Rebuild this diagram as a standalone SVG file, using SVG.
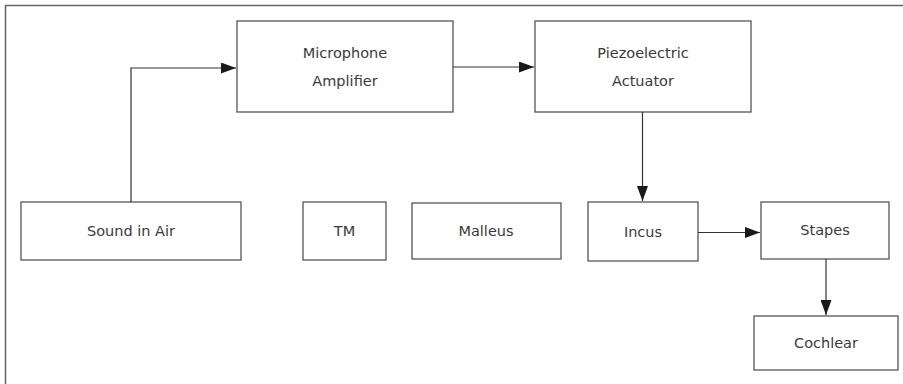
<svg xmlns="http://www.w3.org/2000/svg" width="903" height="384" viewBox="0 0 903 384">
<defs>
<marker id="ah" viewBox="0 0 15 11" refX="15" refY="5.5" markerWidth="15" markerHeight="11" markerUnits="userSpaceOnUse" orient="auto">
<path d="M0,0 L15,5.5 L0,11 Z" fill="#1a1a1a"/>
</marker>
<style>
.box{fill:#fff;stroke:#555;stroke-width:1.3}
.lbl{font-family:"DejaVu Sans","Liberation Sans",sans-serif;font-size:14.5px;fill:#3a3a3a;text-anchor:middle;dominant-baseline:central}
.con{fill:none;stroke:#333;stroke-width:1.2;marker-end:url(#ah)}
</style>
</defs>
<rect width="903" height="384" fill="#fff"/>
<path d="M5.5,384 L5.5,5.5 L903,5.5" fill="none" stroke="#666" stroke-width="1.5"/>
<g id="mic"><rect class="box" x="237" y="21" width="216" height="91"/><text class="lbl" x="345" y="53">Microphone</text><text class="lbl" x="345" y="81">Amplifier</text></g>
<g id="piezo"><rect class="box" x="535" y="21" width="216" height="91"/><text class="lbl" x="643" y="53">Piezoelectric</text><text class="lbl" x="643" y="81">Actuator</text></g>
<g id="sound"><rect class="box" x="21" y="202" width="220" height="58"/><text class="lbl" x="131" y="231">Sound in Air</text></g>
<g id="tm"><rect class="box" x="303" y="202" width="83" height="58"/><text class="lbl" x="344.5" y="231">TM</text></g>
<g id="malleus"><rect class="box" x="412" y="203" width="149" height="56"/><text class="lbl" x="486" y="231">Malleus</text></g>
<g id="incus"><rect class="box" x="588" y="202" width="110" height="59"/><text class="lbl" x="643" y="232">Incus</text></g>
<g id="stapes"><rect class="box" x="761" y="202" width="128" height="57"/><text class="lbl" x="825" y="230">Stapes</text></g>
<g id="cochlear"><rect class="box" x="754" y="316" width="144" height="54"/><text class="lbl" x="826" y="343">Cochlear</text></g>
<g id="connectors">
<path class="con" d="M131,202 L131,68 L236,68"/>
<path class="con" d="M453,67 L534,67"/>
<path class="con" d="M642.5,112 L642.5,201"/>
<path class="con" d="M698,232.5 L760,232.5"/>
<path class="con" d="M826,259 L826,315"/>
</g>
</svg>
